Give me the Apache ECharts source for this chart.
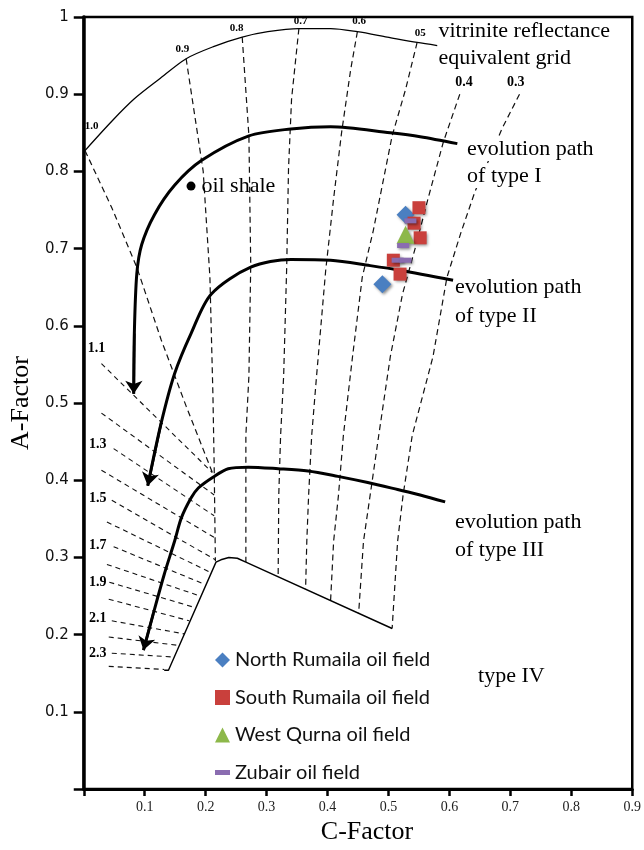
<!DOCTYPE html>
<html><head><meta charset="utf-8">
<script src="https://cdn.jsdelivr.net/npm/echarts@6/dist/echarts.min.js"></script>
<style>html,body{margin:0;padding:0;background:#fff}#c{width:644px;height:850px}</style>
</head><body><div id="c"></div>
<script>
// ---------- data (C-Factor, A-Factor) ----------
const xTickLabels = ['', '0.1', '0.2', '0.3', '0.4', '0.5', '0.6', '0.7', '0.8', '0.9'];
const yTickLabels = ['', '0.1', '0.2', '0.3', '0.4', '0.5', '0.6', '0.7', '0.8', '0.9', '1'];

// vitrinite reflectance upper arc
const arcRo = [[0.002,0.827],[0.046,0.865],[0.083,0.894],[0.123,0.919],[0.168,0.946],[0.214,0.962],[0.260,0.974],[0.302,0.981],[0.353,0.985],[0.405,0.985],[0.449,0.981],[0.498,0.974],[0.547,0.967],[0.580,0.963]];
// iso-reflectance dashed lines
const ro10 = [[0.002,0.827],[0.046,0.753],[0.087,0.676],[0.127,0.582],[0.168,0.496],[0.211,0.410]];
const ro09 = [[0.168,0.946],[0.196,0.800],[0.207,0.663],[0.212,0.509],[0.214,0.419],[0.216,0.295]];
const ro08 = [[0.260,0.974],[0.271,0.846],[0.274,0.679],[0.271,0.535],[0.266,0.458],[0.266,0.381],[0.266,0.294]];
const ro07 = [[0.353,0.985],[0.341,0.894],[0.336,0.804],[0.333,0.676],[0.328,0.535],[0.323,0.458],[0.320,0.381],[0.319,0.278]];
const ro06 = [[0.449,0.981],[0.438,0.932],[0.423,0.850],[0.410,0.765],[0.397,0.672],[0.382,0.535],[0.374,0.458],[0.369,0.381],[0.366,0.321],[0.364,0.259]];
const ro05 = [[0.547,0.967],[0.528,0.906],[0.506,0.846],[0.475,0.723],[0.457,0.663],[0.441,0.560],[0.426,0.458],[0.418,0.381],[0.410,0.321],[0.405,0.244]];
const ro04 = [[0.617,0.900],[0.590,0.838],[0.565,0.765],[0.544,0.701],[0.523,0.641],[0.503,0.560],[0.484,0.458],[0.470,0.381],[0.459,0.321],[0.451,0.227]];
const ro03 = [[0.715,0.900],[0.686,0.855],[0.666,0.817],[0.642,0.774],[0.619,0.721],[0.596,0.663],[0.573,0.560],[0.539,0.458],[0.524,0.381],[0.515,0.321],[0.506,0.208]];
// high-maturity short dashed lines (Ro 1.1 ... 2.3 and base)
const roHigh = [
  [[0.029,0.551],[0.211,0.410]], [[0.029,0.487],[0.214,0.381]], [[0.049,0.441],[0.214,0.354]],
  [[0.029,0.413],[0.214,0.326]], [[0.046,0.374],[0.216,0.297]], [[0.038,0.346],[0.207,0.281]],
  [[0.049,0.314],[0.199,0.265]], [[0.038,0.291],[0.191,0.250]], [[0.042,0.268],[0.183,0.235]],
  [[0.041,0.246],[0.173,0.218]], [[0.046,0.218],[0.165,0.201]], [[0.041,0.197],[0.157,0.186]],
  [[0.046,0.176],[0.149,0.171]], [[0.041,0.159],[0.132,0.155]]
];
// type IV boundary
const boundary = [[0.132,0.154],[0.139,0.154],[0.217,0.294],[0.225,0.297],[0.238,0.300],[0.252,0.299],[0.266,0.294],[0.506,0.208]];
// evolution paths
const pathI = [[0.613,0.836],[0.552,0.845],[0.503,0.850],[0.405,0.858],[0.340,0.855],[0.271,0.846],[0.193,0.814],[0.149,0.782],[0.116,0.744],[0.095,0.705],[0.087,0.667],[0.083,0.590],[0.082,0.512]];
const pathII = [[0.606,0.659],[0.519,0.672],[0.470,0.678],[0.405,0.685],[0.340,0.686],[0.274,0.676],[0.209,0.641],[0.176,0.590],[0.149,0.538],[0.127,0.474],[0.105,0.393]];
const pathIII = [[0.593,0.372],[0.552,0.381],[0.515,0.388],[0.466,0.397],[0.417,0.405],[0.368,0.412],[0.319,0.415],[0.270,0.417],[0.237,0.415],[0.212,0.404],[0.188,0.390],[0.176,0.377],[0.160,0.351],[0.149,0.321],[0.132,0.278],[0.114,0.227],[0.098,0.180]];
// samples
const northRumaila = [[0.528,0.744],[0.490,0.654]];
const southRumaila = [[0.550,0.753],[0.542,0.733],[0.552,0.714],[0.508,0.685],[0.519,0.667]];
const westQurna = [[0.528,0.718]];
const zubair = [[0.536,0.736],[0.524,0.704],[0.515,0.685],[0.528,0.685]];
const oilShale = [[0.176,0.781]];
// annotation texts
const roArcLabels = [[0.013,0.859,'1.0'],[0.162,0.958,'0.9'],[0.251,0.985,'0.8'],[0.356,0.994,'0.7'],[0.452,0.994,'0.6'],[0.552,0.979,'05']];
const roLowLabels = [[0.624,0.915,'0.4'],[0.709,0.915,'0.3']];
const roHighLabels = [[0.021,0.571,'1.1'],[0.023,0.447,'1.3'],[0.023,0.376,'1.5'],[0.023,0.316,'1.7'],[0.023,0.268,'1.9'],[0.023,0.221,'2.1'],[0.023,0.176,'2.3']];
const bigLabels = [[0.582,0.982,'vitrinite reflectance'],[0.582,0.946,'equivalent grid'],
  [0.609,0.650,'evolution path'],[0.609,0.613,'of type II'],
  [0.609,0.346,'evolution path'],[0.609,0.310,'of type III'],[0.647,0.146,'type IV'],[0.193,0.781,'oil shale']];
const typeILabels = [[0.629,0.829,'evolution path'],[0.629,0.794,'of type I']];

// ---------- build ----------
const SERIF = '"Liberation Serif","Times New Roman",serif';
const base = {silent:true, animation:false, clip:false, symbol:'none', z:2};
function solid(data, w){ return Object.assign({}, base, {type:'line', data, smooth:0.3, lineStyle:{color:'#000', width:w}}); }
function dashed(data, w, dash){ return Object.assign({}, base, {type:'line', data, lineStyle:{color:'#111', width:w, type:dash}}); }
const shadow = {shadowBlur:3, shadowColor:'rgba(0,0,0,0.45)', shadowOffsetX:1.5, shadowOffsetY:1.5};
function pts(name, data, symbol, size, color){
  return {type:'scatter', name, data, symbol, symbolSize:size, animation:false, silent:true, z:6,
    itemStyle:Object.assign({color, opacity:1}, shadow)};
}

const series = [
  solid(arcRo, 1.3),
  dashed(ro10, 1.2, [6,4]), dashed(ro09, 1.2, [6,4]), dashed(ro08, 1.2, [6,4]), dashed(ro07, 1.2, [6,4]),
  dashed(ro06, 1.2, [6,4]), dashed(ro05, 1.2, [6,4]), dashed(ro04, 1.2, [6,4]), dashed(ro03, 1.2, [6,4]),
  ...roHigh.map(l => dashed(l, 1.1, [5,4])),
  Object.assign(solid(boundary, 1.4), {smooth:false}),
  solid(pathI, 3), solid(pathII, 3), solid(pathIII, 3),
  {type:'lines', coordinateSystem:'cartesian2d', silent:true, animation:false, z:3,
    symbol:['none','arrow'], symbolSize:13,
    lineStyle:{color:'#000', width:2.5, opacity:1, curveness:0},
    data:[pathI, pathII, pathIII].map(p => ({coords:[p[p.length-2], p[p.length-1]]}))},
  {type:'scatter', data:oilShale, symbol:'circle', symbolSize:9, silent:true, animation:false, itemStyle:{color:'#000', opacity:1}, z:4},
  pts('North Rumaila oil field', northRumaila, 'diamond', 18, '#4a7fc1'),
  pts('South Rumaila oil field', southRumaila, 'rect', 13, '#c9403c'),
  pts('West Qurna oil field', westQurna, 'triangle', 18, '#8db84a'),
  pts('Zubair oil field', zubair, 'path://M0,0h12v5h-12z', [12,5], '#8a6cb0')
];

const chart = echarts.init(document.getElementById('c'), null, {renderer:'canvas'});
chart.setOption({
  animation:false,
  backgroundColor:'#fff',
  grid:{left:82, right:11, top:17, bottom:53, show:true, borderColor:'#000', borderWidth:2.5, backgroundColor:'transparent'},
  xAxis:{type:'value', min:0, max:0.9, interval:0.1,
    name:'C-Factor', nameLocation:'middle', nameGap:25,
    nameTextStyle:{fontFamily:SERIF, fontSize:26, color:'#000', padding:[0,0,0,18]},
    axisLine:{lineStyle:{color:'#000', width:3}},
    axisTick:{show:true, length:7, lineStyle:{color:'#000', width:2.5}},
    axisLabel:{margin:11, fontFamily:SERIF, fontSize:14, color:'#222', formatter:(v,i)=>xTickLabels[i]},
    splitLine:{show:false}},
  yAxis:{type:'value', min:0, max:1, interval:0.1,
    name:'A-Factor', nameLocation:'middle', nameGap:47, nameRotate:90,
    nameTextStyle:{fontFamily:SERIF, fontSize:26, color:'#000'},
    axisLine:{lineStyle:{color:'#000', width:3.5}},
    axisTick:{show:true, length:10, lineStyle:{color:'#000', width:2.5}},
    axisLabel:{margin:15, fontFamily:'"DejaVu Sans",sans-serif', fontSize:15, color:'#111', formatter:(v,i)=>yTickLabels[i]},
    splitLine:{show:false}},
  legend:{show:true, orient:'vertical', left:210, top:645, itemWidth:15, itemHeight:15, itemGap:17.5,
    selectedMode:false,
    textStyle:{fontFamily:'Lato, "Open Sans", sans-serif', fontSize:20, lineHeight:20, color:'#111'},
    data:['North Rumaila oil field','South Rumaila oil field','West Qurna oil field',
      {name:'Zubair oil field', icon:'path://M0,0h12v4h-12z'}]},
  series
});

// annotation texts placed through the chart's own coordinate conversion
function textEls(items, size, weight, align, bg){
  return items.map(d => {
    const p = chart.convertToPixel({gridIndex:0}, [d[0], d[1]]);
    const st = {text:d[2], fill:'#000', font:weight+' '+size+'px '+SERIF, align:align, verticalAlign:'middle'};
    if (bg) { st.backgroundColor = bg; st.padding = [1,2,1,0]; }
    return {type:'text', x:p[0], y:p[1], z:50, silent:true, style:st};
  });
}
chart.setOption({graphic:[].concat(
  textEls(roArcLabels, 11, 'bold', 'center'),
  textEls(roLowLabels, 14, 'bold', 'center'),
  textEls(roHighLabels, 14, 'bold', 'center'),
  textEls(bigLabels, 22, 'normal', 'left'),
  textEls(typeILabels, 22, 'normal', 'left', '#fff')
)});
</script></body></html>
